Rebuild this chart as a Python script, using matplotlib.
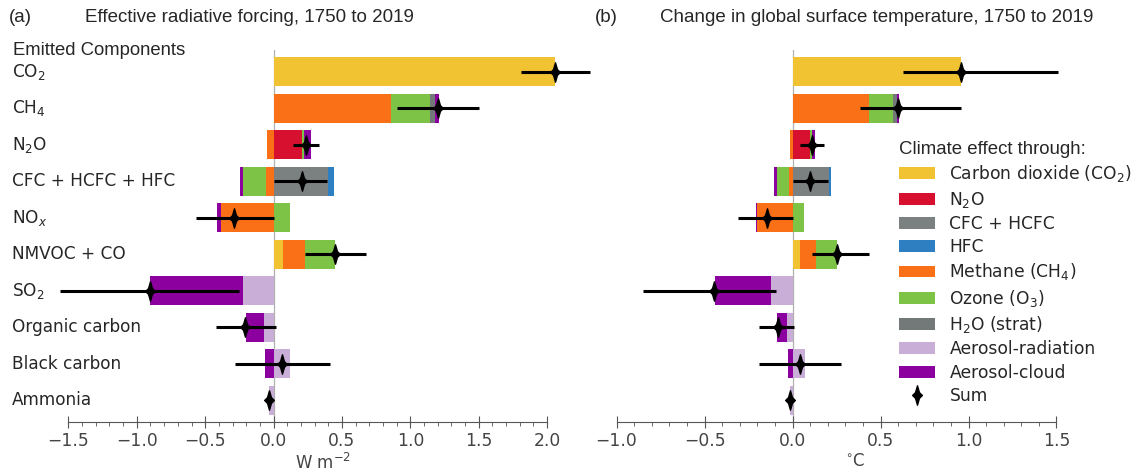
import matplotlib
matplotlib.use("Agg")
import matplotlib.pyplot as plt
import numpy as np
from matplotlib.path import Path
from matplotlib.patches import Patch
from matplotlib.lines import Line2D
from matplotlib.transforms import blended_transform_factory

# ---------------- data ----------------
rows = ["CO$_2$", "CH$_4$", "N$_2$O", "CFC + HCFC + HFC", "NO$_x$",
        "NMVOC + CO", "SO$_2$", "Organic carbon", "Black carbon", "Ammonia"]

effects = ["Carbon dioxide (CO$_2$)", "N$_2$O", "CFC + HCFC", "HFC",
           "Methane (CH$_4$)", "Ozone (O$_3$)", "H$_2$O (strat)",
           "Aerosol-radiation", "Aerosol-cloud"]
colors = ["#f1c232", "#d6102e", "#7b8080", "#2e7fc1", "#f97016",
          "#7dc346", "#737878", "#c9aed8", "#8b009f"]

# Effective radiative forcing (W m-2), per effect across rows
erf_co2     = [2.06, 0, 0, 0, 0, 0.068, 0, 0, 0, 0]
erf_n2o     = [0, 0, 0.21, 0, 0, 0, 0, 0, 0, 0]
erf_cfc     = [0, 0, 0, 0.40, 0, 0, 0, 0, 0, 0]
erf_hfc     = [0, 0, 0, 0.045, 0, 0, 0, 0, 0, 0]
erf_ch4     = [0, 0.855, -0.045, -0.053, -0.385, 0.162, 0, 0, 0, 0]
erf_o3      = [0, 0.288, 0.015, -0.17, 0.117, 0.22, 0, 0, 0, 0]
erf_h2o     = [0, 0.037, 0, 0, 0, 0, 0, 0, 0, 0]
erf_aer_rad = [0, 0, 0, 0, 0, 0, -0.22, -0.067, 0.123, -0.03]
erf_aer_cld = [0, 0.03, 0.045, -0.022, -0.025, 0, -0.68, -0.138, -0.065, 0]
erf_sum     = [2.06, 1.20, 0.235, 0.205, -0.29, 0.45, -0.90, -0.21, 0.06, -0.033]
erf_low     = [1.81, 0.905, 0.14, 0.005, -0.57, 0.23, -1.56, -0.42, -0.285, -0.033]
erf_high    = [2.31, 1.50, 0.335, 0.39, 0.0, 0.675, -0.25, 0.015, 0.41, -0.033]

# Global surface temperature change (°C)
dt_co2     = [0.956, 0, 0, 0, 0, 0.04, 0, 0, 0, 0]
dt_n2o     = [0, 0, 0.10, 0, 0, 0, 0, 0, 0, 0]
dt_cfc     = [0, 0, 0, 0.205, 0, 0, 0, 0, 0, 0]
dt_hfc     = [0, 0, 0, 0.013, 0, 0, 0, 0, 0, 0]
dt_ch4     = [0, 0.436, -0.015, -0.02, -0.20, 0.094, 0, 0, 0, 0]
dt_o3      = [0, 0.137, 0.008, -0.07, 0.066, 0.121, 0, 0, 0, 0]
dt_h2o     = [0, 0.021, 0, 0, 0, 0, 0, 0, 0, 0]
dt_aer_rad = [0, 0, 0, 0, 0, 0, -0.125, -0.03, 0.07, -0.015]
dt_aer_cld = [0, 0.011, 0.017, -0.017, -0.01, 0, -0.315, -0.058, -0.024, 0]
dt_sum     = [0.956, 0.60, 0.112, 0.10, -0.147, 0.255, -0.445, -0.08, 0.044, -0.012]
dt_low     = [0.63, 0.385, 0.04, 0.005, -0.31, 0.113, -0.85, -0.19, -0.19, -0.012]
dt_high    = [1.51, 0.96, 0.18, 0.20, 0.0, 0.436, -0.096, 0.01, 0.276, -0.012]

erf_parts = [erf_co2, erf_n2o, erf_cfc, erf_hfc, erf_ch4, erf_o3, erf_h2o, erf_aer_rad, erf_aer_cld]
dt_parts = [dt_co2, dt_n2o, dt_cfc, dt_hfc, dt_ch4, dt_o3, dt_h2o, dt_aer_rad, dt_aer_cld]

# ---------------- figure ----------------
W, H = 1134, 476
fig = plt.figure(figsize=(W / 100, H / 100), dpi=100)
TXT = "#262626"
plt.rcParams["font.family"] = ["DejaVu Sans"]
ARIAL = ["Liberation Sans", "DejaVu Sans"]

def fx(x):
    return x / W

def fy(y):
    return 1 - y / H

top_px, bot_px = 50, 422
ax_b = fy(bot_px)
ax_h = (bot_px - top_px) / H

axL = fig.add_axes([fx(52), ax_b, fx(595) - fx(52), ax_h])
axR = fig.add_axes([fx(606), ax_b, fx(1104) - fx(606), ax_h])

# custom slim diamond marker
verts = [(0, 1), (0.2, 0.3), (0.5, 0), (0.2, -0.3), (0, -1), (-0.2, -0.3),
         (-0.5, 0), (-0.2, 0.3), (0, 1)]
codes = [Path.MOVETO] + [Path.LINETO] * 7 + [Path.CLOSEPOLY]
diamond = Path(verts, codes)

y = np.arange(len(rows))

def draw(ax, parts, tot, low, high, xlim, bounds, ticks):
    pos = np.zeros(len(rows))
    neg = np.zeros(len(rows))
    for vals, c in zip(parts, colors):
        v = np.array(vals, dtype=float)
        p = np.where(v > 0, v, 0)
        n = np.where(v < 0, v, 0)
        ax.barh(y, p, left=pos, height=0.8, color=c, linewidth=0)
        ax.barh(y, n, left=neg, height=0.8, color=c, linewidth=0)
        pos += p
        neg += n
    ax.axvline(0, color="#b0b0b0", lw=0.9, zorder=0.5)
    for i in range(len(rows)):
        if high[i] != low[i]:
            ax.plot([low[i], high[i]], [y[i], y[i]], color="k", lw=2.2,
                    solid_capstyle="butt", zorder=3)
    ax.plot(tot, y, linestyle="none", marker=diamond, ms=14, color="k", zorder=4)
    ax.set_xlim(*xlim)
    ax.set_ylim(9.6, -0.6)
    ax.set_yticks([])
    for s in ["top", "right", "left"]:
        ax.spines[s].set_visible(False)
    ax.spines["bottom"].set_bounds(*bounds)
    ax.spines["bottom"].set_color("#555555")
    ax.set_xticks(ticks)
    ax.set_xticks(np.arange(bounds[0], bounds[1] + 1e-9, 0.1), minor=True)
    ax.tick_params(axis="x", which="major", direction="inout", length=8,
                   color="#555555", labelsize=12.3, labelcolor="#444444", pad=3)
    ax.tick_params(axis="x", which="minor", direction="out", length=3,
                   color="#555555")

draw(axL, erf_parts, erf_sum, erf_low, erf_high, (-1.62, 2.35), (-1.5, 2.0),
     [-1.5, -1.0, -0.5, 0.0, 0.5, 1.0, 1.5, 2.0])
draw(axR, dt_parts, dt_sum, dt_low, dt_high, (-1.06, 1.77), (-1.0, 1.5),
     [-1.0, -0.5, 0.0, 0.5, 1.0, 1.5])

axL.set_xlabel("W m$^{-2}$", fontsize=12, color="#444444", labelpad=2)
axR.set_xlabel("$^{\\circ}$C", fontsize=12, color="#444444", labelpad=2)

# row labels
tr = blended_transform_factory(fig.transFigure, axL.transData)
for i, lab in enumerate(rows):
    fig.text(fx(12), i, lab, transform=tr, ha="left", va="center",
             fontsize=12.2, color=TXT)
fig.text(fx(13), -0.58, "Emitted Components", transform=tr, ha="left",
         va="center", fontsize=13.3, color=TXT, family=ARIAL)

# titles
tfont = dict(family=ARIAL, fontsize=13.5, color=TXT, va="center", ha="left")
fig.text(fx(9), fy(18), "(a)", **tfont)
fig.text(fx(85), fy(18), "Effective radiative forcing, 1750 to 2019", **tfont)
fig.text(fx(595), fy(18), "(b)", **tfont)
fig.text(fx(660), fy(18), "Change in global surface temperature, 1750 to 2019", **tfont)

# legend
handles = [Patch(facecolor=c, edgecolor="none") for c in colors]
handles.append(Line2D([], [], linestyle="none", marker=diamond, ms=14, color="k"))
labels = effects + ["Sum"]
leg = fig.legend(handles, labels, loc="upper left",
                 bbox_to_anchor=(fx(899), fy(141)), frameon=False,
                 fontsize=12.3, labelspacing=0.31, handlelength=2.1,
                 handleheight=0.7, handletextpad=0.85, borderpad=0,
                 borderaxespad=0, title="Climate effect through:",
                 title_fontproperties={"family": ARIAL, "size": 13.4})
leg._legend_box.align = "left"
leg.get_title().set_color(TXT)
for t in leg.get_texts():
    t.set_color(TXT)

fig.savefig("out.png", dpi=100)
